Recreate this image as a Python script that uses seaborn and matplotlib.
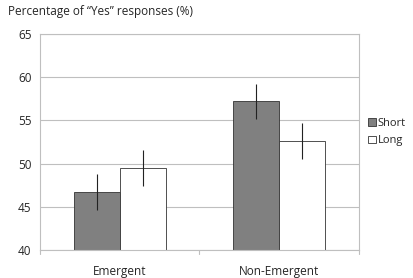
import numpy as np
import pandas as pd
import seaborn as sns
from matplotlib import pyplot as plt
from matplotlib.patches import Patch

conditions = ["Emergent", "Non-Emergent"]
durations = ["Short", "Long"]
short_vals = [46.7, 57.2]
long_vals = [49.5, 52.6]
short_err = [2.1, 2.0]
long_err = [2.1, 2.1]
yticks = [40, 45, 50, 55, 60, 65]

colors = {"Short": "#808080", "Long": "white"}

df = pd.DataFrame(
    {
        "condition": conditions * 2,
        "duration": ["Short"] * 2 + ["Long"] * 2,
        "value": short_vals + long_vals,
        "err": short_err + long_err,
    }
)

sns.set_style("white")
plt.rcParams["font.family"] = ["Open Sans", "DejaVu Sans"]

fig = plt.figure(figsize=(4.14, 2.78), dpi=100)
ax = fig.add_axes([40 / 414, 28 / 278, 319 / 414, 216 / 278])

sns.barplot(
    data=df,
    x="condition",
    y="value",
    hue="duration",
    hue_order=durations,
    palette=colors,
    width=0.575,
    edgecolor="#333333",
    linewidth=0.6,
    errorbar=None,
    legend=False,
    ax=ax,
)

# error bars at bar centers
for bars, name in zip(ax.containers, durations):
    sub = df[df["duration"] == name]
    xs = [b.get_x() + b.get_width() / 2 for b in bars]
    ax.errorbar(xs, sub["value"], yerr=sub["err"], fmt="none",
                ecolor="#222222", elinewidth=0.8, capsize=0)

ax.set_ylim(40, 65)
ax.set_xlim(-0.5, 1.5)
ax.set_yticks(yticks)
ax.yaxis.grid(True, color="#bfbfbf", linewidth=0.8)
ax.set_axisbelow(True)
for s in ax.spines.values():
    s.set_color("#bfbfbf")
    s.set_linewidth(0.8)
ax.set_xlabel("")
ax.set_ylabel("")
ax.tick_params(axis="y", labelsize=8.5, length=0, pad=6)
ax.tick_params(axis="x", labelsize=8.5, length=0, pad=11)

# small tick marks between categories
for xb in [-0.5, 0.5, 1.5]:
    ax.plot([xb, xb], [40, 39.5], color="#bfbfbf", lw=0.8, clip_on=False)

handles = [Patch(facecolor=colors[d], edgecolor="#333333", linewidth=0.6, label=d)
           for d in durations]
ax.legend(handles=handles, loc="center left", bbox_to_anchor=(1.0, 0.546),
          frameon=False, fontsize=8, handlelength=0.7, handleheight=0.7,
          handletextpad=0.2, borderaxespad=0.4, labelspacing=0.6)

fig.text(8 / 414, 1 - 12 / 278, "Percentage of \u201cYes\u201d responses (%)",
         fontsize=8.5, va="center", ha="left")

plt.savefig("out.png", dpi=100)
